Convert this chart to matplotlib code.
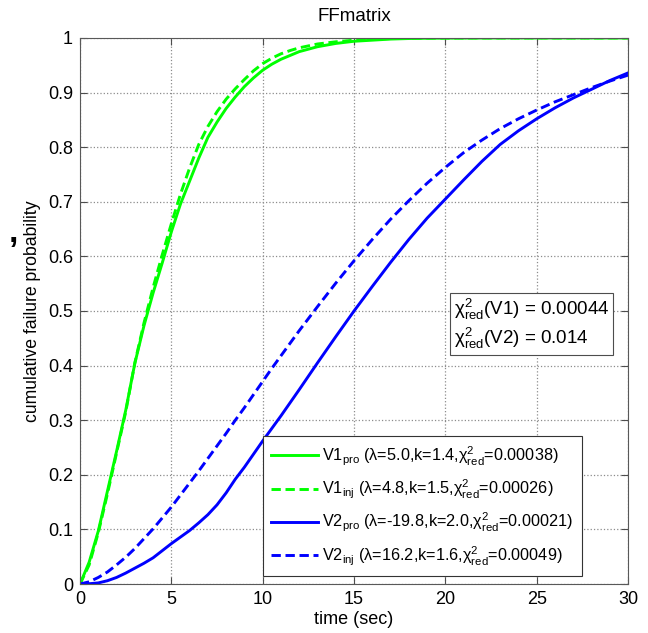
import matplotlib
matplotlib.use("Agg")
import matplotlib.pyplot as plt
from matplotlib.ticker import FuncFormatter

plt.rcParams['font.family'] = ['Liberation Sans', 'DejaVu Sans']
plt.rcParams['mathtext.fontset'] = 'custom'
plt.rcParams['mathtext.rm'] = 'Liberation Sans'
plt.rcParams['mathtext.it'] = 'Liberation Sans:italic'

# values
time_s = [0, 0.5, 1, 1.5, 2, 2.5, 3, 3.5, 4, 4.5, 5, 5.5, 6, 6.5, 7, 7.5, 8, 8.5,
          9, 9.5, 10, 10.5, 11, 11.5, 12, 13, 14, 15, 16, 17, 18, 19, 20, 21,
          22, 23, 24, 25, 26, 27, 28, 29, 30]

v1_pro = [0, 0.04, 0.097, 0.17, 0.243, 0.318, 0.404, 0.473, 0.533, 0.588, 0.645,
          0.696, 0.738, 0.78, 0.818, 0.846, 0.871, 0.892, 0.911, 0.927, 0.941,
          0.952, 0.961, 0.968, 0.975, 0.984, 0.990, 0.994, 0.996, 0.998, 0.999,
          0.9995, 0.9997, 0.9998, 0.9999, 1, 1, 1, 1, 1, 1, 1, 1]
v1_inj = [0, 0.035, 0.094, 0.165, 0.24, 0.315, 0.405, 0.478, 0.543, 0.603, 0.66,
          0.714, 0.762, 0.805, 0.838, 0.865, 0.888, 0.907, 0.924, 0.94, 0.953,
          0.963, 0.971, 0.977, 0.982, 0.989, 0.993, 0.996, 0.998, 0.999, 0.9995,
          0.9997, 0.9999, 1, 1, 1, 1, 1, 1, 1, 1, 1, 1]
v2_pro = [0, 0.0005, 0.002, 0.006, 0.012, 0.02, 0.029, 0.038, 0.048, 0.061, 0.074,
          0.086, 0.098, 0.112, 0.127, 0.145, 0.167, 0.192, 0.214, 0.238, 0.262,
          0.285, 0.308, 0.332, 0.356, 0.405, 0.453, 0.500, 0.545, 0.589, 0.631,
          0.670, 0.705, 0.740, 0.774, 0.805, 0.830, 0.852, 0.872, 0.890, 0.906,
          0.922, 0.936]
v2_inj = [0, 0.004, 0.012, 0.022, 0.035, 0.049, 0.065, 0.083, 0.101, 0.121, 0.141,
          0.163, 0.185, 0.207, 0.23, 0.253, 0.276, 0.3, 0.323, 0.347, 0.371,
          0.395, 0.418, 0.441, 0.464, 0.508, 0.551, 0.592, 0.631, 0.668, 0.702,
          0.734, 0.763, 0.790, 0.813, 0.834, 0.852, 0.868, 0.883, 0.896, 0.909,
          0.921, 0.932]

labels = [
    r'V1$_{\rm pro}$ (λ=5.0,k=1.4,χ$^2_{\rm red}$=0.00038)',
    r'V1$_{\rm inj}$ (λ=4.8,k=1.5,χ$^2_{\rm red}$=0.00026)',
    r'V2$_{\rm pro}$ (λ=-19.8,k=2.0,χ$^2_{\rm red}$=0.00021)',
    r'V2$_{\rm inj}$ (λ=16.2,k=1.6,χ$^2_{\rm red}$=0.00049)',
]
chi_text = 'χ$^2_{\\rm red}$(V1) = 0.00044\nχ$^2_{\\rm red}$(V2) = 0.014'

fig = plt.figure(figsize=(6.48, 6.33), dpi=100)
ax = fig.add_axes([0.1235, 0.0774, 0.8457, 0.8626])

green = (0, 1, 0)
blue = (0, 0, 1)
ax.plot(time_s, v1_pro, color=green, lw=2.1, label=labels[0])
ax.plot(time_s, v1_inj, color=green, lw=2.1, ls='--', dashes=(3.2, 1.6), label=labels[1])
ax.plot(time_s, v2_pro, color=blue, lw=2.1, label=labels[2])
ax.plot(time_s, v2_inj, color=blue, lw=2.1, ls='--', dashes=(3.2, 1.6), label=labels[3])

ax.set_xlim(0, 30)
ax.set_ylim(0, 1)
ax.set_xticks(range(0, 31, 5))
ax.set_yticks([i / 10 for i in range(11)])
ax.yaxis.set_major_formatter(FuncFormatter(lambda v, p: f'{v:g}'))
ax.tick_params(direction='in', length=5, top=True, right=True, labelsize=13,
               color='0.3', pad=5)
ax.grid(True, ls=':', color='0.55', lw=0.9)
for s in ax.spines.values():
    s.set_color('0.35')

ax.set_title('FFmatrix', fontsize=13.5, pad=12)
ax.set_xlabel('time (sec)', fontsize=13, labelpad=2)
ax.set_ylabel('cumulative failure probability', fontsize=12.7, labelpad=5)

leg = ax.legend(loc='lower left', bbox_to_anchor=(0.334, 0.015), borderaxespad=0,
                fontsize=11.7, handlelength=2.9, handletextpad=0.25, fancybox=False,
                framealpha=1, edgecolor='0.2', labelspacing=0.62, borderpad=0.5)
leg.get_frame().set_linewidth(0.8)

ax.text(20.45, 0.476, chi_text, fontsize=13.5, va='center', ha='left',
        linespacing=1.2,
        bbox=dict(boxstyle='square,pad=0.2', fc='white', ec='0.3', lw=0.8))

fig.text(0.013, 0.618, ',', fontsize=24, fontweight='bold')

fig.savefig('out.png', dpi=100)
